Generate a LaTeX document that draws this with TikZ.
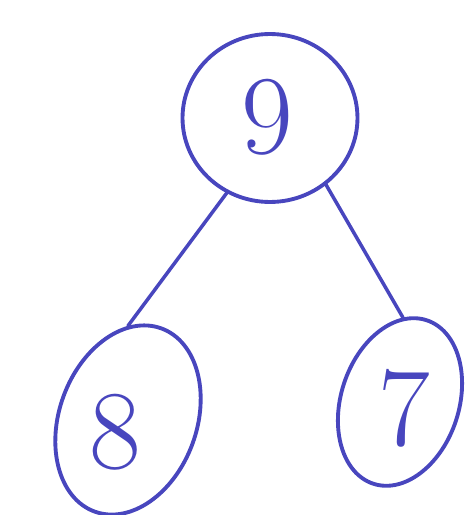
\documentclass[tikz,border=0pt]{standalone}
\usetikzlibrary{shapes.geometric}
\definecolor{penblue}{RGB}{72,70,190}
\tikzset{
  heap tree ring/.style={
    draw=penblue,
    line width=2.2pt,
    ellipse,
    inner sep=0pt
  },
  heap tree key/.style={
    text=penblue,
    font=\fontsize{64}{70}\selectfont
  },
  heap tree edge/.style={draw=penblue, line width=2pt, line cap=round}
}

\begin{document}
\begin{tikzpicture}[x=0.02cm,y=0.02cm]
  \useasboundingbox (0,0) rectangle (473,515);

  \node[heap tree ring,minimum width=3.5cm,minimum height=3.36cm]
    (root) at (270,397) {};
  \node[heap tree ring,minimum width=3.9cm,minimum height=2.75cm,rotate=70]
    (left) at (128,95) {};
  \node[heap tree ring,minimum width=3.44cm,minimum height=2.36cm,rotate=72]
    (right) at (400,113) {};

  \node[heap tree key] (rootkey) at (267,398) {9};
  \node[heap tree key] (leftkey) at (115,83) {8};
  \node[heap tree key] (rightkey) at (404,107) {7};

  \draw[heap tree edge] (root.240) -- (left.20);
  \draw[heap tree edge] (root.310) -- (right.16);
\end{tikzpicture}
\end{document}
